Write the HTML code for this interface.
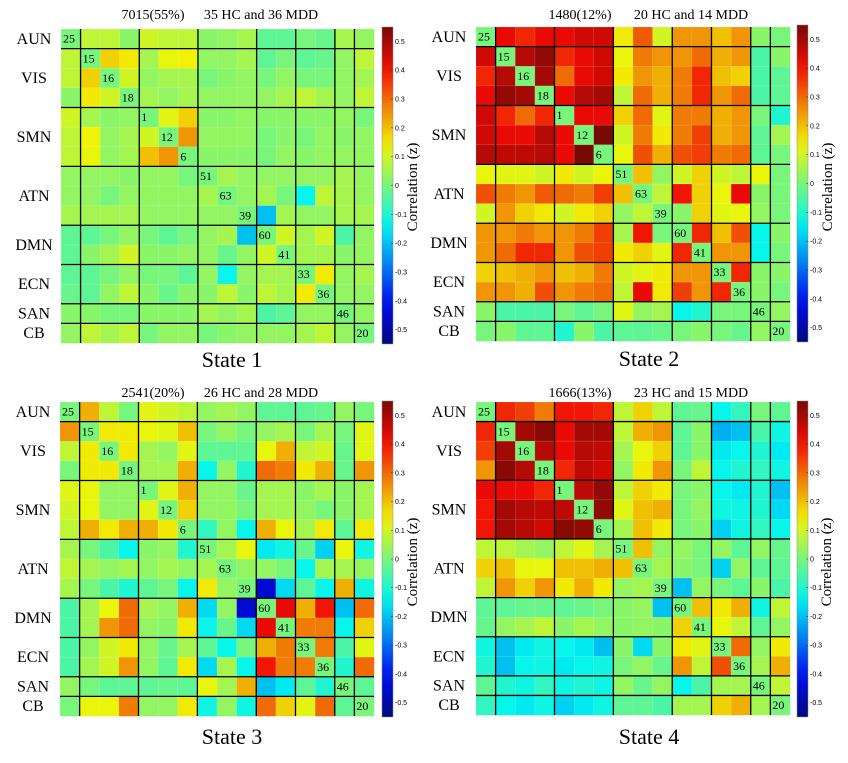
<!DOCTYPE html>
<html><head><meta charset="utf-8">
<style>
html,body{margin:0;padding:0;background:#fff;width:848px;height:763px;overflow:hidden}
svg{display:block}
text{font-family:"Liberation Serif",serif;fill:#000}
</style></head>
<body>
<svg id="fig" width="848" height="763" viewBox="0 0 848 763"></svg>
<script>
const netNames = ["AUN","VIS","SMN","ATN","DMN","ECN","SAN","CB"];
const netSizes = [1,3,3,3,2,2,1,1];
const compLabels = ["25","15","16","18","1","12","6","51","63","39","60","41","33","36","46","20"];
const cbTicks = [0.5,0.4,0.3,0.2,0.1,0,-0.1,-0.2,-0.3,-0.4,-0.5];
const stateNames = ["State 1","State 2","State 3","State 4"];
const stateCounts = ["7015(55%)","1480(12%)","2541(20%)","1666(13%)"];
const stateSubjects = ["35 HC and 36 MDD","20 HC and 14 MDD","26 HC and 28 MDD","23 HC and 15 MDD"];

const state1 = [
[0,0.08,0.08,0.02,0.1,0.08,0.08,0.02,0.03,0.05,-0.03,-0.03,0.0,-0.02,0.05,0.03],
[0.08,0,0.18,0.15,0.05,0.13,0.14,0.03,0.03,0.05,-0.03,0.0,-0.03,-0.02,0.03,0.08],
[0.08,0.18,0,0.1,0.03,0.05,0.05,0.0,0.02,0.03,0.0,0.03,0.0,0.0,0.03,0.05],
[0.02,0.15,0.1,0,0.05,0.03,0.05,0.03,0.03,0.03,0.03,0.05,0.08,0.05,0.03,0.08],
[0.1,0.05,0.02,0.03,0,0.12,0.18,0.02,0.02,0.03,0.02,0.02,0.02,0.02,0.03,0.0],
[0.08,0.14,0.03,0.05,0.1,0,0.25,0.03,0.03,0.03,0.0,0.02,0.0,0.03,0.02,0.03],
[0.08,0.13,0.03,0.05,0.2,0.25,0,0.02,0.02,0.02,0.0,0.03,0.02,0.03,0.03,0.03],
[0.03,0.03,0.03,0.02,0.03,0.03,0.0,0,0.05,0.03,0.03,0.03,0.03,0.03,0.05,0.03],
[0.03,0.03,0.0,0.03,0.03,0.03,0.03,0.05,0,0.03,0.05,0.0,-0.13,0.08,0.05,0.03],
[0.05,0.05,0.05,0.05,0.03,0.03,0.03,0.03,0.03,0,-0.2,0.05,0.03,0.03,0.05,0.05],
[-0.03,-0.03,0.0,0.03,0.0,-0.03,0.0,0.03,0.05,-0.2,0,0.1,0.05,0.1,-0.05,0.03],
[-0.03,0.02,0.05,0.1,0.02,0.02,0.03,0.03,-0.02,0.03,0.1,0,0.05,0.05,0.02,0.03],
[-0.03,-0.03,0.0,0.03,0.0,0.0,-0.03,0.03,-0.13,0.03,0.05,0.05,0,0.15,0.03,0.05],
[-0.02,-0.03,0.03,0.08,0.02,-0.02,0.02,0.02,0.08,0.02,0.08,0.05,0.15,0,0.03,0.03],
[0.02,0.02,0.0,0.0,0.02,0.02,0.02,0.05,0.03,0.05,-0.05,-0.03,0.03,0.03,0,0.03],
[0.03,0.08,0.05,0.08,0.0,0.03,0.03,0.0,0.02,0.03,0.03,0.03,0.05,0.08,0.03,0]];
const state2 = [
[0,0.42,0.38,0.42,0.42,0.45,0.45,0.15,0.32,0.1,0.25,0.25,0.2,0.25,0.02,0.0],
[0.45,0,0.48,0.52,0.38,0.42,0.45,0.13,0.28,0.25,0.25,0.3,0.22,0.25,-0.05,0.02],
[0.38,0.48,0,0.5,0.3,0.42,0.45,0.15,0.25,0.22,0.28,0.38,0.2,0.18,-0.05,-0.03],
[0.42,0.52,0.5,0,0.42,0.48,0.5,0.08,0.3,0.22,0.28,0.38,0.25,0.3,-0.05,-0.03],
[0.45,0.38,0.3,0.38,0,0.42,0.42,0.18,0.3,0.12,0.28,0.28,0.22,0.25,0.0,-0.1],
[0.45,0.42,0.42,0.48,0.42,0,0.55,0.1,0.28,0.15,0.28,0.35,0.22,0.25,-0.03,0.05],
[0.48,0.47,0.47,0.48,0.42,0.55,0,0.13,0.33,0.22,0.33,0.35,0.28,0.3,-0.03,0.0],
[0.13,0.12,0.12,0.1,0.15,0.1,0.13,0,0.2,0.03,0.1,0.18,0.1,0.08,0.13,0.0],
[0.33,0.28,0.25,0.32,0.3,0.28,0.35,0.2,0,0.08,0.4,0.18,0.13,0.42,0.02,0.0],
[0.1,0.25,0.18,0.15,0.1,0.15,0.18,0.03,0.08,0,0.02,0.18,0.12,0.13,0.03,0.0],
[0.25,0.25,0.28,0.25,0.25,0.28,0.35,0.05,0.4,0.0,0,0.38,0.2,0.33,-0.13,0.02],
[0.25,0.3,0.38,0.38,0.25,0.33,0.35,0.15,0.18,0.12,0.38,0,0.25,0.25,-0.13,0.0],
[0.18,0.2,0.22,0.25,0.2,0.22,0.28,0.1,0.12,0.15,0.25,0.25,0,0.38,0.02,0.02],
[0.25,0.25,0.22,0.33,0.25,0.28,0.3,0.08,0.42,0.15,0.35,0.25,0.38,0,0.02,0.0],
[0.02,-0.05,-0.05,-0.05,0.0,-0.03,0.0,0.12,0.03,0.05,-0.13,-0.1,0.0,0.0,0,0.03],
[0.0,0.02,-0.03,-0.03,-0.1,0.02,-0.05,-0.03,-0.03,-0.02,0.0,0.02,0.0,-0.02,0.03,0]];
const state3 = [
[0,0.22,0.08,0.0,0.12,0.1,0.08,0.03,0.05,0.03,-0.03,-0.03,-0.03,-0.02,0.03,0.0],
[0.25,0,0.15,0.15,0.13,0.12,0.2,0.0,0.03,0.0,0.03,0.05,0.0,0.05,0.0,0.12],
[0.08,0.15,0,0.15,0.05,0.03,0.12,-0.03,-0.03,-0.03,0.13,0.22,0.08,0.1,-0.02,0.12],
[0.0,0.15,0.15,0,0.05,0.05,0.22,-0.13,0.03,-0.1,0.3,0.28,0.15,0.22,-0.02,0.25],
[0.12,0.13,0.03,0.03,0,0.12,0.22,0.03,0.03,-0.02,0.05,0.05,0.02,0.05,0.02,0.05],
[0.1,0.13,0.03,0.03,0.12,0,0.18,0.03,0.03,0.0,0.05,0.05,0.03,0.0,0.02,0.05],
[0.08,0.22,0.15,0.22,0.22,0.15,0,-0.08,0.03,-0.13,0.22,0.13,0.05,0.15,-0.03,0.15],
[0.05,0.0,-0.05,-0.13,0.02,0.03,-0.1,0,0.05,0.13,-0.15,-0.12,-0.02,-0.18,0.13,-0.12],
[0.08,0.05,0.03,0.05,0.03,0.05,0.03,0.05,0,0.03,0.03,0.0,-0.13,0.05,0.05,0.03],
[0.05,0.0,-0.05,-0.1,-0.03,0.0,-0.13,0.15,0.03,0,-0.45,-0.17,-0.03,-0.13,0.22,-0.12],
[-0.05,0.05,0.13,0.3,0.05,0.03,0.22,-0.17,0.03,-0.45,0,0.42,0.22,0.4,-0.2,0.3],
[-0.05,0.05,0.25,0.3,0.03,0.02,0.15,-0.13,-0.02,-0.17,0.42,0,0.28,0.28,-0.13,0.18],
[-0.05,0.03,0.1,0.15,0.03,-0.02,0.05,-0.03,-0.13,0.0,0.22,0.28,0,0.28,-0.05,0.12],
[-0.05,0.05,0.1,0.25,0.03,-0.03,0.15,-0.17,0.05,-0.13,0.4,0.28,0.28,0,-0.1,0.3],
[0.03,0.0,-0.03,-0.03,-0.03,-0.02,-0.03,0.13,0.05,0.22,-0.2,-0.15,-0.03,-0.1,0,-0.03],
[0.0,0.13,0.13,0.28,0.03,0.03,0.15,-0.12,0.03,-0.12,0.3,0.18,0.12,0.3,-0.03,0]];
const state4 = [
[0,0.38,0.35,0.28,0.4,0.4,0.38,0.08,0.18,0.08,-0.03,-0.02,-0.13,-0.08,0.0,-0.03],
[0.38,0,0.5,0.53,0.42,0.5,0.5,0.08,0.22,0.25,-0.03,0.02,-0.22,-0.2,-0.05,-0.12],
[0.35,0.5,0,0.48,0.42,0.48,0.47,0.05,0.13,0.18,-0.03,0.02,-0.15,-0.13,-0.1,-0.15],
[0.25,0.53,0.48,0,0.38,0.47,0.45,0.03,0.15,0.25,0.0,0.08,-0.13,-0.1,-0.08,-0.12],
[0.42,0.42,0.42,0.38,0,0.47,0.52,0.08,0.18,0.15,0.0,0.02,-0.13,-0.15,-0.1,-0.2],
[0.4,0.5,0.48,0.47,0.47,0,0.52,0.12,0.2,0.22,0.0,0.03,-0.12,-0.12,-0.1,-0.17],
[0.4,0.5,0.48,0.45,0.53,0.52,0,0.05,0.2,0.15,0.0,0.02,-0.18,-0.12,-0.08,-0.13],
[0.08,0.08,0.05,0.03,0.08,0.12,0.05,0,0.2,0.03,0.03,0.0,0.03,-0.03,0.03,-0.02],
[0.18,0.2,0.13,0.13,0.2,0.2,0.22,0.2,0,0.05,0.02,0.0,-0.18,0.03,-0.03,-0.03],
[0.08,0.25,0.18,0.25,0.15,0.22,0.15,0.03,0.05,0,-0.2,0.03,0.0,-0.03,0.02,-0.05],
[-0.03,-0.03,-0.02,-0.02,-0.03,-0.02,0.0,0.02,0.03,-0.2,0,0.2,0.15,0.22,-0.12,0.08],
[-0.02,0.03,0.05,0.08,0.02,0.05,0.03,0.02,0.03,0.02,0.18,0,0.13,0.08,-0.03,0.03],
[-0.12,-0.2,-0.15,-0.12,-0.13,-0.15,-0.2,0.02,-0.17,0.02,0.15,0.12,0,0.3,0.03,0.15],
[-0.1,-0.2,-0.13,-0.12,-0.15,-0.13,-0.12,0.0,0.03,-0.02,0.25,0.08,0.33,0,0.05,0.22],
[-0.03,-0.1,-0.12,-0.08,-0.12,-0.1,-0.12,0.03,-0.02,0.03,-0.13,-0.05,0.05,0.05,0,0.08],
[-0.08,-0.13,-0.15,-0.12,-0.18,-0.15,-0.12,-0.03,-0.03,-0.05,0.05,0.05,0.18,0.22,0.05,0]];
const matrices = [state1,state2,state3,state4];

const VMIN=-0.55, VMAX=0.55;
const NS="http://www.w3.org/2000/svg";
const svg=document.getElementById('fig');
function mk(tag,attrs,parent){const e=document.createElementNS(NS,tag);for(const k in attrs)e.setAttribute(k,attrs[k]);(parent||svg).appendChild(e);return e;}
function cl(x){return Math.max(0,Math.min(1,x));}
function jet(v){const t=cl((v-VMIN)/(VMAX-VMIN));
  const r=cl(1.5-Math.abs(4*t-3)),g=cl(1.5-Math.abs(4*t-2)),b=cl(1.5-Math.abs(4*t-1));
  return `rgb(${Math.round(r*240)},${Math.round(g*235+10)},${Math.round(b*235+5)})`;}

const panels=[
 {hx:61,hy:29,hw:313,hh:314,cbx:382,cby:27,cbh:317,cx:417,cy:187,tx1:153,tx2:261,ty:19,sx:232,sy:367},
 {hx:476,hy:27,hw:314,hh:314,cbx:797,cby:25,cbh:317,cx:832,cy:187,tx1:580,tx2:691,ty:19,sx:649,sy:366},
 {hx:60,hy:402,hw:314,hh:314,cbx:382,cby:401,cbh:316,cx:417,cy:562,tx1:153,tx2:261,ty:397,sx:232,sy:744},
 {hx:476,hy:402,hw:314,hh:313,cbx:797,cby:401,cbh:316,cx:831,cy:562,tx1:580,tx2:691,ty:397,sx:649,sy:744}];

// gradient for colorbar
const defs=mk('defs',{});
const grad=mk('linearGradient',{id:'jetgrad',x1:0,y1:1,x2:0,y2:0},defs);
for(let i=0;i<=20;i++){const v=VMIN+(VMAX-VMIN)*i/20;mk('stop',{offset:(i/20),'stop-color':jet(v)},grad);}

panels.forEach((p,pi)=>{
  const M=matrices[pi], n=compLabels.length;
  const g=mk('g',{});
  
  
  const cw=p.hw/n, ch=p.hh/n;
  const xs=j=>p.hx+j*cw, ys=i=>p.hy+i*ch;
  for(let i=0;i<n;i++)for(let j=0;j<n;j++){
    const r=mk('rect',{x:xs(j),y:ys(i),width:cw+0.3,height:ch+0.3,fill:jet(M[i][j]),stroke:'rgba(255,255,255,0.25)','stroke-width':0.5},g);
    
    
  }
  for(let i=0;i<n;i++){
    const t=mk('text',{x:xs(i)+2,y:ys(i)+ch*0.7,'font-size':12},g);
    t.textContent=compLabels[i];
    
    
  }
  // network boundaries
  let acc=0;
  netSizes.forEach((s,k)=>{
    const mid=acc+s/2;
    const t=mk('text',{x:p.hx-27,y:ys(mid)+5,'font-size':16,'text-anchor':'middle'},g);
    t.textContent=netNames[k];
    
    
    acc+=s;
    if(acc<n){
      mk('line',{x1:xs(acc),y1:p.hy,x2:xs(acc),y2:p.hy+p.hh,stroke:'#000','stroke-width':1.3},g);
      mk('line',{x1:p.hx,y1:ys(acc),x2:p.hx+p.hw,y2:ys(acc),stroke:'#000','stroke-width':1.3},g);
    }
  });
  // colorbar
  const cb=mk('rect',{x:p.cbx,y:p.cby,width:11,height:p.cbh,fill:'url(#jetgrad)',stroke:'#888','stroke-width':0.5},g);
  
  
  cbTicks.forEach(v=>{
    const y=p.cby+(VMAX-v)/(VMAX-VMIN)*p.cbh;
    mk('line',{x1:p.cbx+9,y1:y,x2:p.cbx+11,y2:y,stroke:'#333','stroke-width':0.5},g);
    const t=mk('text',{x:p.cbx+13,y:y+2.5,'font-size':7,fill:'#333',style:'font-family:"Liberation Sans",sans-serif'},g);
    t.textContent=(v===0?'0':String(v));
    
    
  });
  const ct=mk('text',{x:p.cx,y:p.cy,'font-size':15,'text-anchor':'middle',transform:`rotate(-90 ${p.cx} ${p.cy})`},g);
  ct.textContent='Correlation (z)';
  
  
  const t1=mk('text',{x:p.tx1,y:p.ty,'font-size':14,'text-anchor':'middle'},g);
  t1.textContent=stateCounts[pi];
  
  
  const t2=mk('text',{x:p.tx2,y:p.ty,'font-size':14,'text-anchor':'middle'},g);
  t2.textContent=stateSubjects[pi];
  
  
  const st=mk('text',{x:p.sx,y:p.sy,'font-size':22,'text-anchor':'middle'},g);
  st.textContent=stateNames[pi];
  
  
});
</script>
</body></html>
